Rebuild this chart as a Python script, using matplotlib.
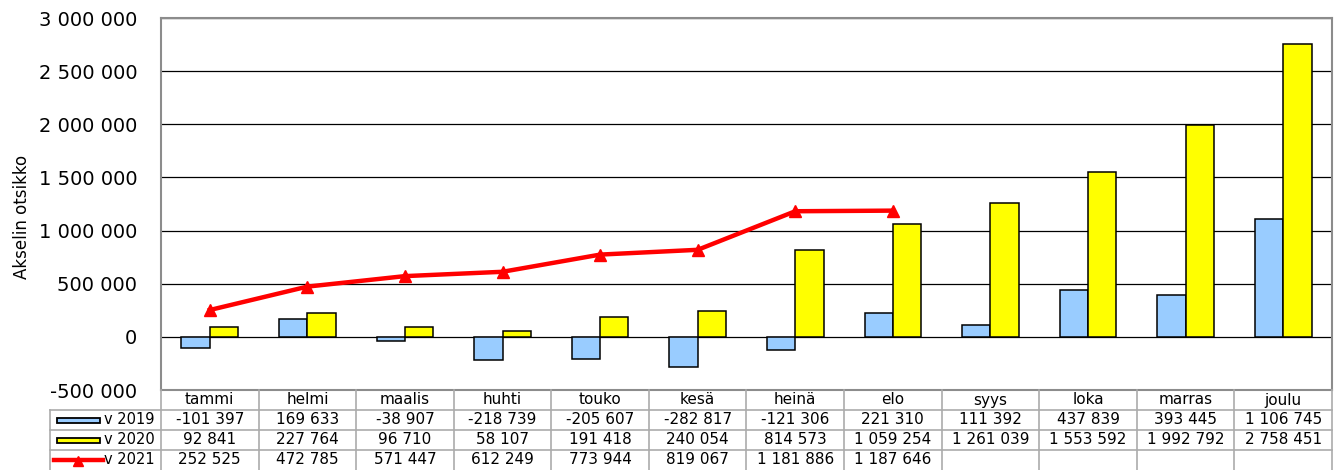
import matplotlib.pyplot as plt
from matplotlib.patches import Rectangle
from matplotlib.lines import Line2D
import numpy as np

plt.rcParams['font.family'] = ['DejaVu Sans']

months = ['tammi', 'helmi', 'maalis', 'huhti', 'touko', 'kesä',
          'heinä', 'elo', 'syys', 'loka', 'marras', 'joulu']
v2019 = [-101397, 169633, -38907, -218739, -205607, -282817,
         -121306, 221310, 111392, 437839, 393445, 1106745]
v2020 = [92841, 227764, 96710, 58107, 191418, 240054,
         814573, 1059254, 1261039, 1553592, 1992792, 2758451]
v2021 = [252525, 472785, 571447, 612249, 773944, 819067,
         1181886, 1187646]
series_names = ['v 2019', 'v 2020', 'v 2021']

blue = '#99CCFF'
yellow = '#FFFF00'
red = '#FF0000'
gray = '#8c8c8c'


def fmt(v):
    return f"{v:,}".replace(",", " ")


W, H = 1339, 470
fig = plt.figure(figsize=(W / 100, H / 100), dpi=100)

# main plot area
ax = fig.add_axes([161 / W, 1 - 390 / H, (1332 - 161) / W, (390 - 18) / H])
x = np.arange(len(months))
bw = 0.29
ax.bar(x - bw / 2, v2019, bw, color=blue, edgecolor='black', linewidth=1.1, zorder=3)
ax.bar(x + bw / 2, v2020, bw, color=yellow, edgecolor='black', linewidth=1.1, zorder=3)
ax.plot(x[:len(v2021)], v2021, color=red, lw=3.2, marker='^', ms=8,
        mec=red, mfc=red, zorder=4)

ax.set_xlim(-0.5, len(months) - 0.5)
ax.set_ylim(-500000, 3000000)
yt = np.arange(-500000, 3000001, 500000)
ax.set_yticks(yt)
ax.set_yticklabels([fmt(v) for v in yt], fontsize=14)
ax.tick_params(axis='y', length=0, pad=17)
ax.set_xticks([])
ax.grid(axis='y', color='black', lw=0.9, zorder=1)
for s in ax.spines.values():
    s.set_color(gray)
    s.set_linewidth(1.5)
ax.set_ylabel('Akselin otsikko', fontsize=12)
ax.yaxis.set_label_coords(-0.111, 0.465)

# data table below
tax = fig.add_axes([161 / W, 0, (1332 - 161) / W, 80 / H])
tax.set_xlim(-0.5, len(months) - 0.5)
tax.set_ylim(4, 0)
tax.axis('off')
px = (1332 - 161) / len(months)
left = -0.5 - (161 - 50) / px
lc = '#ababab'
for k in range(len(months) + 1):
    tax.plot([k - 0.5, k - 0.5], [0, 4], color=lc, lw=1.2, clip_on=False)
for r in (1, 2, 3):
    tax.plot([left, len(months) - 0.5], [r, r], color=lc, lw=1.2, clip_on=False)
tax.plot([left, left], [1, 4], color=lc, lw=1.2, clip_on=False)

fs = 11
for i, m in enumerate(months):
    tax.text(i, 0.5, m, ha='center', va='center', fontsize=fs)
rows = [v2019, v2020, v2021]
for r, vals in enumerate(rows):
    for i, v in enumerate(vals):
        tax.text(i, r + 1.5, fmt(v), ha='center', va='center', fontsize=fs)

# legend keys in the first column
x0 = -0.5 - (161 - 57) / px
x1 = -0.5 - (161 - 100) / px
xt = -0.5 - (161 - 104) / px
for r, c in ((1, blue), (2, yellow)):
    tax.add_patch(Rectangle((x0, r + 0.38), x1 - x0, 0.26, facecolor=c,
                            edgecolor='black', lw=1.3, clip_on=False))
tax.add_line(Line2D([-0.5 - (161 - 54) / px, -0.5 - (161 - 103) / px], [3.5, 3.5],
                    color=red, lw=3.2, clip_on=False))
tax.plot([-0.5 - (161 - 78) / px], [3.55], marker='^', ms=7, color=red, clip_on=False)
for r, name in enumerate(series_names):
    tax.text(xt, r + 1.5, name, ha='left', va='center', fontsize=10.5)

fig.savefig('out.png', dpi=100)
